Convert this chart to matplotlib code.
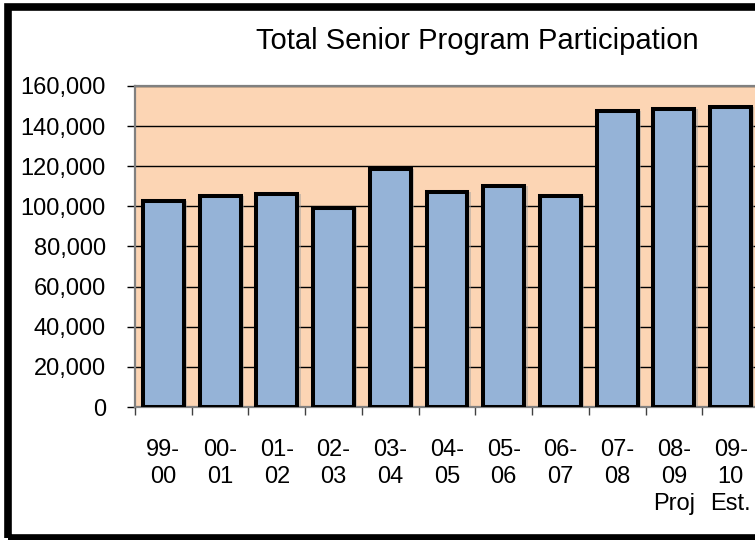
import matplotlib.pyplot as plt
from matplotlib.patches import Rectangle
from matplotlib.ticker import FuncFormatter, FixedLocator
import numpy as np

plt.rcParams['font.family'] = ['Liberation Sans', 'DejaVu Sans']

# data
years = ["99-\n00", "00-\n01", "01-\n02", "02-\n03", "03-\n04", "04-\n05",
         "05-\n06", "06-\n07", "07-\n08", "08-\n09\nProj", "09-\n10\nEst."]
participants = [102500, 105000, 106000, 99000, 118500, 107000,
                110000, 105000, 147500, 148500, 149500]

fig = plt.figure(figsize=(7.55, 5.40), dpi=100)
fig.patch.set_facecolor('white')

# plot area runs a bit past the right edge, like the original crop
ax = fig.add_axes([135 / 755, 133 / 540, 624 / 755, 321 / 540])
ax.set_facecolor('#FCD5B4')

x = np.arange(len(years))
# soft shadow behind bars
ax.bar(x + 0.06, participants, width=0.72, color='#A0A0A0', alpha=0.5,
       zorder=2, linewidth=0)
ax.bar(x, participants, width=0.72, color='#95B3D7', edgecolor='black',
       linewidth=2.9, zorder=3)

ax.set_xlim(-0.5, len(years) - 0.5)
ax.set_ylim(0, 160000)
ax.set_yticks(np.arange(0, 160001, 20000))
ax.yaxis.set_major_formatter(FuncFormatter(lambda v, p: f"{int(v):,}"))
ax.yaxis.grid(True, color='black', linewidth=1.0, zorder=1)
ax.set_axisbelow(True)

ax.set_xticks(x)
ax.set_xticklabels(years, linespacing=1.3)
ax.xaxis.set_minor_locator(FixedLocator(np.arange(-0.5, len(years), 1.0)))
ax.tick_params(axis='x', which='major', length=0, pad=23, labelsize=17)
ax.tick_params(axis='x', which='minor', length=6, width=1, color='#404040')
ax.tick_params(axis='y', length=6, width=1, pad=15, labelsize=17)

for side in ['left', 'top', 'bottom']:
    ax.spines[side].set_color('#808080')
    ax.spines[side].set_linewidth(1.6)
ax.spines['right'].set_visible(False)

fig.text(477 / 755, 1 - 41 / 540, "Total Senior Program Participation",
         ha='center', va='center', fontsize=21)

# outer chart border (right side is cropped off in the original)
fig.patches.append(Rectangle((8 / 755, 2 / 540), 1.0, 531 / 540,
                             transform=fig.transFigure, fill=False,
                             edgecolor='black', linewidth=5.5))

fig.savefig('out.png', dpi=100)
